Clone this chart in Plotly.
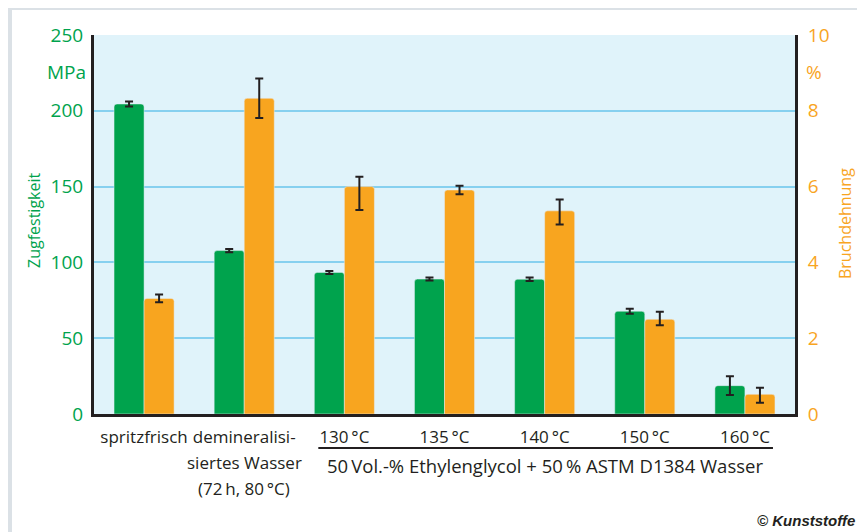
import plotly.graph_objects as go

categories = ["spritzfrisch", "demineralisiertes Wasser", "130 °C", "135 °C", "140 °C", "150 °C", "160 °C"]
tick_labels = ["spritzfrisch", "demineralisi-", "130\u2009°C", "135\u2009°C", "140\u2009°C",
               "150\u2009°C", "160\u2009°C"]
extra_label_lines = ["siertes Wasser", "(72\u2009h, 80\u2009°C)"]
strength = [204.5, 107.8, 93.4, 89.0, 88.9, 67.8, 18.7]
strength_err = [1.7, 1.1, 1.0, 1.0, 1.1, 1.6, 6.2]
elongation = [3.05, 8.33, 6.0, 5.91, 5.36, 2.5, 0.52]
elong_err_plus = [0.1, 0.52, 0.26, 0.11, 0.3, 0.2, 0.17]
elong_err_minus = [0.1, 0.52, 0.62, 0.11, 0.36, 0.16, 0.22]
group_label = "50\u2009Vol.-% Ethylenglycol + 50\u2009% ASTM D1384 Wasser"

GREEN = "#00a34d"
ORANGE = "#f8a51f"
DARK = "#231f20"
FONT = "Open Sans"

x_idx = list(range(len(categories)))

fig = go.Figure()
fig.add_trace(go.Bar(
    x=x_idx, y=strength, name="Zugfestigkeit", marker=dict(color=GREEN, cornerradius=3),
    error_y=dict(type="data", array=strength_err, color=DARK, thickness=2, width=4),
    offsetgroup="a", yaxis="y"))
fig.add_trace(go.Bar(
    x=x_idx, y=elongation, name="Bruchdehnung", marker=dict(color=ORANGE, cornerradius=3),
    error_y=dict(type="data", array=elong_err_plus, arrayminus=elong_err_minus,
                 symmetric=False, color=DARK, thickness=2, width=4),
    offsetgroup="b", yaxis="y2"))

# page has an 8px body margin; work in page pixels and shift
OFF = 8
W, H = 865 - OFF, 532 - OFF
PL, PR, PT, PB = 94, 795, 35, 414   # plot area in page pixels
L, T = PL - OFF, PT - OFF
R = W - (PR - OFF)
B = H - (PB - OFF)
pw, ph = PR - PL, PB - PT

def px(xp):
    return (xp - PL) / pw

def py(yp):
    return (PB - yp) / ph

fig.update_layout(
    width=W, height=H,
    margin=dict(l=L, r=R, t=T, b=B, autoexpand=False),
    paper_bgcolor="white", plot_bgcolor="#e0f3fa",
    showlegend=False, barmode="group", bargap=0.4, bargroupgap=0,
    font=dict(family=FONT, color=DARK),
    xaxis=dict(range=[-0.5, 6.5], tickmode="array", tickvals=x_idx, ticktext=tick_labels,
               showline=True, linecolor=DARK, linewidth=3, showgrid=False, tickangle=0,
               automargin=False, tickfont=dict(size=17, color=DARK), ticks="",
               ticklabelstandoff=6, fixedrange=True),
    yaxis=dict(range=[0, 250], dtick=50, showline=True, linecolor=DARK, linewidth=3,
               gridcolor="#86d0ef", gridwidth=2, zeroline=False, automargin=False,
               tickfont=dict(size=19, color=GREEN), ticks="", ticklabelstandoff=4),
    yaxis2=dict(range=[0, 10], dtick=2, overlaying="y", side="right", showline=True,
                linecolor=DARK, linewidth=3, showgrid=False, zeroline=False, automargin=False,
                tickfont=dict(size=19, color=ORANGE), ticks="", ticklabelstandoff=6),
)

def cat_paper(v):
    return (v + 0.5) / 7

for i, line in enumerate(extra_label_lines):
    fig.add_annotation(xref="paper", yref="paper", x=cat_paper(1), y=py(462 + 26 * i), text=line,
                       showarrow=False, xanchor="center", yanchor="middle",
                       font=dict(size=17, color=DARK))

fig.add_annotation(xref="paper", yref="paper", x=px(34), y=py(220), text="Zugfestigkeit",
                   showarrow=False, textangle=-90, xanchor="center", yanchor="middle",
                   font=dict(size=16, color=GREEN))
fig.add_annotation(xref="paper", yref="paper", x=px(845), y=py(224), text="Bruchdehnung",
                   showarrow=False, textangle=-90, xanchor="center", yanchor="middle",
                   font=dict(size=16, color=ORANGE))
fig.add_annotation(xref="paper", yref="paper", x=px(88), y=py(72), text="MPa",
                   showarrow=False, xanchor="right", yanchor="middle",
                   font=dict(size=19, color=GREEN))
fig.add_annotation(xref="paper", yref="paper", x=px(804), y=py(72), text="%",
                   showarrow=False, xanchor="left", yanchor="middle",
                   font=dict(size=19, color=ORANGE))

fig.add_shape(type="line", xref="paper", yref="paper",
              x0=cat_paper(2 - 0.26), x1=cat_paper(6 + 0.28), y0=py(448), y1=py(448),
              line=dict(color=DARK, width=2))
fig.add_annotation(xref="paper", yref="paper", x=cat_paper(4), y=py(465), text=group_label,
                   showarrow=False, xanchor="center", yanchor="middle",
                   font=dict(size=18.5, color=DARK))
fig.add_annotation(xref="paper", yref="paper", x=px(857), y=py(520), text="<b><i>© Kunststoffe</i></b>",
                   showarrow=False, xanchor="right", yanchor="middle",
                   font=dict(size=15, color=DARK, family="Liberation Sans Narrow, Liberation Sans"))

FRAME = "#dbe1e6"
fig.add_shape(type="rect", xref="paper", yref="paper", x0=px(8), x1=px(12), y0=py(532), y1=py(8),
              fillcolor=FRAME, line=dict(width=0), layer="below")
fig.add_shape(type="rect", xref="paper", yref="paper", x0=px(8), x1=px(865), y0=py(10), y1=py(8),
              fillcolor=FRAME, line=dict(width=0), layer="below")

fig.write_html("out.html")
